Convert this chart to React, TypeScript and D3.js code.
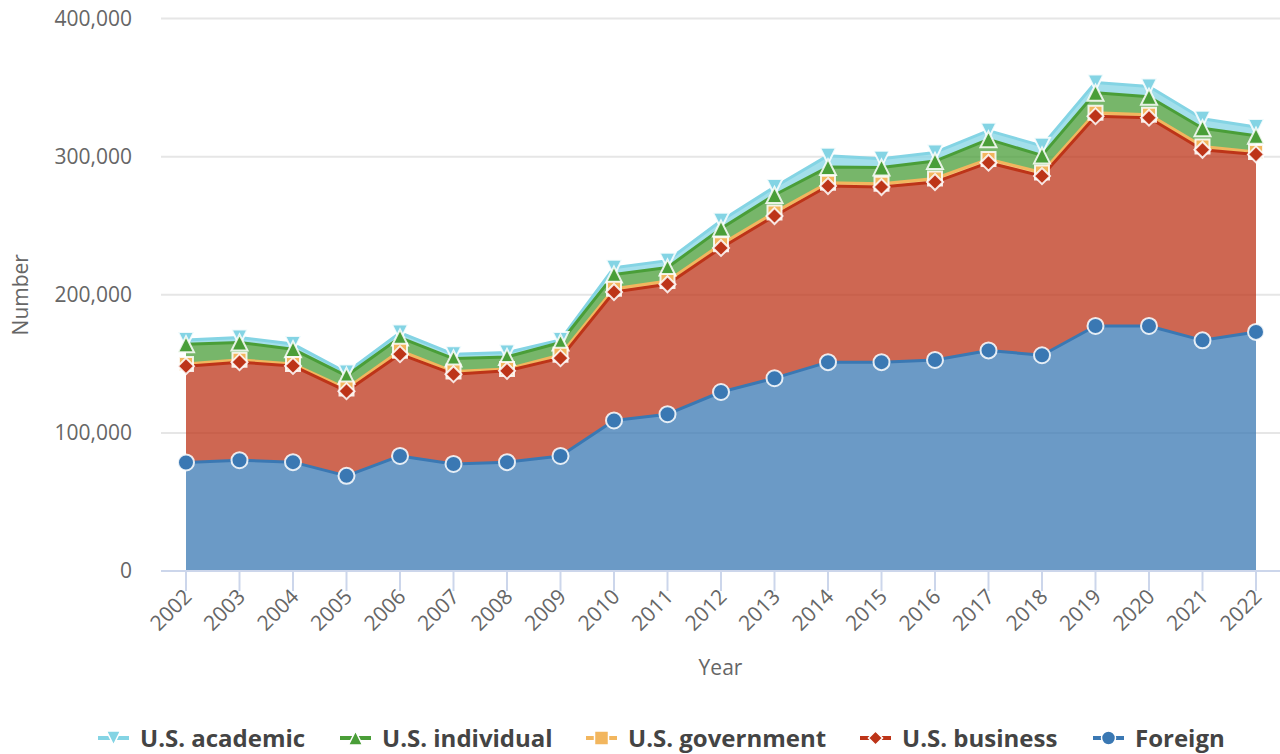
import React from "react";
import * as d3 from "d3";

const years = ["2002","2003","2004","2005","2006","2007","2008","2009","2010","2011","2012","2013","2014","2015","2016","2017","2018","2019","2020","2021","2022"];
const foreign = [78600,80200,78800,68900,83300,77500,78800,83300,109000,113500,129600,139600,151200,151200,152800,159700,156200,177400,177400,167000,173100];
const business = [69700,71000,69700,61300,73700,65000,66100,70800,93000,94100,104300,117400,127500,126800,128800,135900,129700,151900,150800,138000,128500];
const government = [1600,1700,1300,1900,2500,1900,1300,2400,2300,2300,2600,2600,2400,2400,2600,2600,2600,2400,2200,2400,1700];
const individual = [14300,12500,10800,9200,9500,9400,8800,8900,10300,9800,11400,12600,11300,11800,12600,14300,12400,14500,12900,13200,11800];
const academic = [3100,3600,3700,2400,3600,3200,3200,1900,5000,5000,5700,5800,8300,6200,6200,6300,6900,7500,7500,6800,6300];
const yTicks = [0,100000,200000,300000,400000];

const seriesDefs = [
  { key: "academic", name: "U.S. academic", color: "#84d4e4", symbol: "triangle-down", values: academic },
  { key: "individual", name: "U.S. individual", color: "#4a9e38", symbol: "triangle", values: individual },
  { key: "government", name: "U.S. government", color: "#f2b65e", symbol: "square", values: government },
  { key: "business", name: "U.S. business", color: "#bd3418", symbol: "diamond", values: business },
  { key: "foreign", name: "Foreign", color: "#3a78b3", symbol: "circle", values: foreign },
];

const legendX = [98, 340, 586, 860, 1093];

const FONT = "'Open Sans', 'Noto Sans', sans-serif";

function markerPath(symbol: string, r: number): string {
  switch (symbol) {
    case "triangle":
      return `M0,${-r}L${r},${r}L${-r},${r}Z`;
    case "triangle-down":
      return `M${-r},${-r}L${r},${-r}L0,${r}Z`;
    case "square":
      return `M${-r},${-r}L${r},${-r}L${r},${r}L${-r},${r}Z`;
    case "diamond":
      return `M0,${-r}L${r},0L0,${r}L${-r},0Z`;
    default:
      return `M${-r},0A${r},${r} 0 1,0 ${r},0A${r},${r} 0 1,0 ${-r},0Z`;
  }
}

export default function App() {
  const W = 1280, H = 754;
  const plotLeft = 161, plotRight = 1280;
  const x = d3.scalePoint<string>().domain(years).range([186, 1256]);
  const y = d3.scaleLinear().domain([0, 400000]).range([571, 18.5]);

  const table = years.map((yr, i) => {
    const row: any = { year: yr };
    seriesDefs.forEach((s) => (row[s.key] = s.values[i]));
    return row;
  });
  const stackOrder = ["foreign", "business", "government", "individual", "academic"];
  const stacked = d3.stack<any>().keys(stackOrder)(table);
  const byKey: Record<string, any> = {};
  stacked.forEach((s) => (byKey[s.key] = s));

  const area = d3
    .area<any>()
    .x((d) => x(d.data.year)!)
    .y0((d) => y(d[0]))
    .y1((d) => y(d[1]));
  const line = d3
    .line<any>()
    .x((d) => x(d.data.year)!)
    .y((d) => y(d[1]));

  const fmt = d3.format(",");

  return (
    <svg width={W} height={H} style={{ position: "absolute", left: 0, top: 0, background: "#fff" }} fontFamily={FONT}>
      {yTicks.map((t) =>
        t === 0 ? null : (
          <line key={"g" + t} x1={plotLeft} x2={plotRight} y1={y(t)} y2={y(t)} stroke="#e6e6e6" strokeWidth={2} />
        )
      )}
      {yTicks.map((t) => (
        <text key={"yl" + t} x={132} y={y(t)} dy="0.35em" textAnchor="end" fontSize={21} fill="#666666">
          {fmt(t)}
        </text>
      ))}
      <text transform={`translate(28,${(y(0) + y(400000)) / 2}) rotate(-90)`} textAnchor="middle" fontSize={21} fill="#666666">
        Number
      </text>

      {seriesDefs.map((s) => (
        <g key={"a" + s.key}>
          <path d={area(byKey[s.key])!} fill={s.color} fillOpacity={0.75} />
          <path d={line(byKey[s.key])!} fill="none" stroke={s.color} strokeWidth={3} strokeLinejoin="round" />
        </g>
      ))}

      <line x1={plotLeft} x2={plotRight} y1={571} y2={571} stroke="#ccd6eb" strokeWidth={2} />
      {years.map((yr) => (
        <g key={"xt" + yr}>
          <line x1={x(yr)} x2={x(yr)} y1={571} y2={591} stroke="#ccd6eb" strokeWidth={2} />
          <text
            transform={`translate(${x(yr)! + 7},${598}) rotate(-45)`}
            textAnchor="end"
            fontSize={21}
            fill="#666666"
          >
            {yr}
          </text>
        </g>
      ))}
      <text x={(plotLeft + plotRight) / 2} y={675} textAnchor="middle" fontSize={21} fill="#666666">
        Year
      </text>

      {seriesDefs.map((s) => (
        <g key={"m" + s.key}>
          {byKey[s.key].map((d: any, i: number) => (
            <path
              key={i}
              d={markerPath(s.symbol, s.symbol === "square" ? 7 : 8)}
              transform={`translate(${x(d.data.year)},${y(d[1])})`}
              fill={s.color}
              stroke="#ffffff"
              strokeOpacity={0.85}
              strokeWidth={2}
            />
          ))}
        </g>
      ))}

      {seriesDefs.map((s, i) => (
        <g key={"l" + s.key} transform={`translate(${legendX[i]},738)`}>
          <line x1={0} x2={31} y1={0} y2={0} stroke={s.color} strokeWidth={4} />
          <path d={markerPath(s.symbol, 7)} transform="translate(15.5,0)" fill={s.color} stroke="#ffffff" strokeWidth={1.5} />
          <text x={42} y={0} dy="0.36em" fontSize={24} fontWeight="bold" fill="#444444">
            {s.name}
          </text>
        </g>
      ))}
    </svg>
  );
}
